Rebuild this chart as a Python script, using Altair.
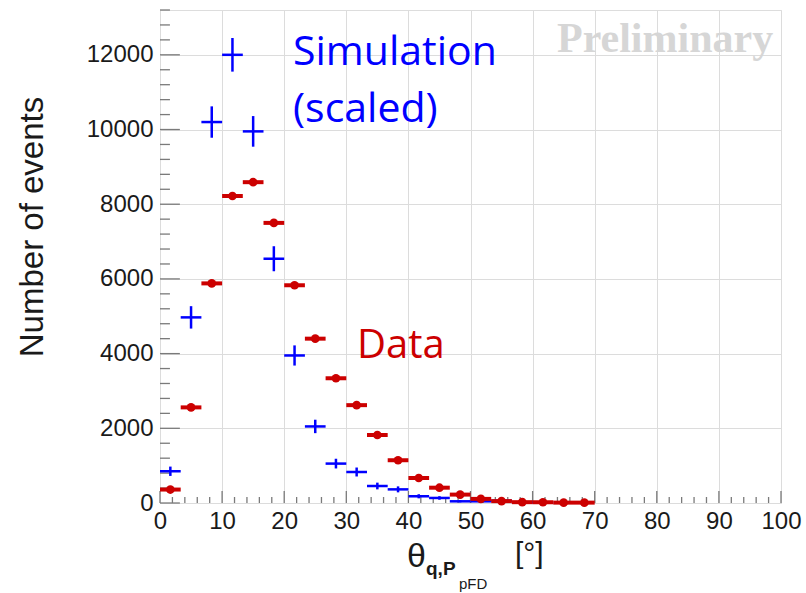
import altair as alt
import pandas as pd

# ---- data ----
bin_centers = [1.667, 5.0, 8.333, 11.667, 15.0, 18.333, 21.667, 25.0, 28.333, 31.667,
               35.0, 38.333, 41.667, 45.0, 48.333, 51.667, 55.0, 58.333, 61.667, 65.0, 68.333]
bin_half = 1.667
data_counts = [360, 2560, 5880, 8220, 8590, 7500, 5830, 4400, 3340, 2620,
               1820, 1145, 670, 410, 225, 110, 50, 22, 20, 10, 10]
sim_counts = [850, 4970, 10200, 12000, 9950, 6540, 3950, 2050, 1055, 830,
              455, 365, 180, 135, 45, 45, 60, 12, 10]
sim_err = [125, 300, 420, 450, 410, 335, 270, 180, 130, 120,
           90, 80, 55, 48, 28, 28, 32, 14, 13]

x_ticks_major = list(range(0, 101, 10))
x_ticks_minor = [v for v in range(0, 101, 2) if v % 10 != 0]
y_ticks_major = list(range(0, 12001, 2000))
y_ticks_minor = [v for v in range(0, 13201, 400) if v % 2000 != 0]

df_data = pd.DataFrame({"x": bin_centers, "y": data_counts})
df_data["lo"] = df_data["x"] - bin_half
df_data["hi"] = df_data["x"] + bin_half
df_sim = pd.DataFrame({"x": bin_centers[:len(sim_counts)], "y": sim_counts, "e": sim_err})
df_sim["lo"] = df_sim["x"] - bin_half
df_sim["hi"] = df_sim["x"] + bin_half
df_sim["ylo"] = df_sim["y"] - df_sim["e"]
df_sim["yhi"] = df_sim["y"] + df_sim["e"]

W, H = 621, 493
RED = "#cc0000"
BLUE = "#0000ff"
FONT = "Liberation Sans"
TICK = "#7a7a7a"

xs = alt.Scale(domain=[0, 100], nice=False, zero=False)
ys = alt.Scale(domain=[0, 13200], nice=False, zero=False)

xaxis = alt.Axis(values=x_ticks_major, grid=True, gridColor="#dcdcdc", gridWidth=1,
                 ticks=False, domain=False, title=None, labelFontSize=24, labelFont=FONT,
                 labelColor="#1a1a1a", labelPadding=6, labelFlush=False, labelOverlap=False)
yaxis = alt.Axis(values=y_ticks_major, grid=True, gridColor="#dcdcdc", gridWidth=1,
                 ticks=False, domain=False, title=None, labelFontSize=24, labelFont=FONT,
                 labelColor="#1a1a1a", labelPadding=7, labelOverlap=False, format="d")

base_axes = alt.Chart(pd.DataFrame({"x": [0], "y": [0]})).mark_point(opacity=0).encode(
    x=alt.X("x:Q", scale=xs, axis=xaxis),
    y=alt.Y("y:Q", scale=ys, axis=yaxis),
)

# inward ticks (ROOT style)
df_yt = pd.DataFrame({"y": y_ticks_major, "x": [0.0] * len(y_ticks_major)})
df_yt["x2"] = 3.2
df_yn = pd.DataFrame({"y": y_ticks_minor, "x": [0.0] * len(y_ticks_minor)})
df_yn["x2"] = 1.6
ytm = alt.Chart(df_yt).mark_rule(color=TICK, strokeWidth=1.3).encode(
    y=alt.Y("y:Q", scale=ys), x=alt.X("x:Q", scale=xs), x2="x2:Q")
ytn = alt.Chart(df_yn).mark_rule(color=TICK, strokeWidth=1.3).encode(
    y=alt.Y("y:Q", scale=ys), x=alt.X("x:Q", scale=xs), x2="x2:Q")
xtm = alt.Chart(pd.DataFrame({"v": x_ticks_major})).mark_tick(
    color=TICK, thickness=1.3, size=12, orient="vertical", opacity=1).encode(
    x=alt.X("v:Q", scale=xs), y=alt.value(H - 6))
xtn = alt.Chart(pd.DataFrame({"v": x_ticks_minor})).mark_tick(
    color=TICK, thickness=1.3, size=6, orient="vertical", opacity=1).encode(
    x=alt.X("v:Q", scale=xs), y=alt.value(H - 3))

# simulation (blue crosses)
sim_h = alt.Chart(df_sim).mark_rule(color=BLUE, strokeWidth=2.5).encode(
    x=alt.X("lo:Q", scale=xs), x2="hi:Q", y=alt.Y("y:Q", scale=ys))
sim_v = alt.Chart(df_sim).mark_rule(color=BLUE, strokeWidth=2.5).encode(
    x=alt.X("x:Q", scale=xs), y=alt.Y("ylo:Q", scale=ys), y2="yhi:Q")

# data (red)
dat_h = alt.Chart(df_data).mark_rule(color=RED, strokeWidth=4).encode(
    x=alt.X("lo:Q", scale=xs), x2="hi:Q", y=alt.Y("y:Q", scale=ys))
dat_p = alt.Chart(df_data).mark_circle(color=RED, opacity=1, size=75).encode(
    x=alt.X("x:Q", scale=xs), y=alt.Y("y:Q", scale=ys))

def label(text, x, y, size, color, font="Open Sans", weight="normal", angle=0, align="left", baseline="alphabetic"):
    return alt.Chart(pd.DataFrame({"t": [text]})).mark_text(
        fontSize=size, font=font, color=color, fontWeight=weight, angle=angle,
        align=align, baseline=baseline).encode(
        text="t:N", x=alt.value(x), y=alt.value(y))

texts = [
    label("Simulation", 133, 55, 41, BLUE),
    label("(scaled)", 133, 112, 41, BLUE),
    label("Data", 197, 348, 40, RED),
    label("Preliminary", 397, 42, 42, "#d6d6d6", font="Liberation Serif", weight="bold"),
    label("Number of events", -127, 217, 33, "#1a1a1a", font=FONT, angle=270,
          align="center", baseline="middle"),
    label("θ", 247, 557, 34, "#1a1a1a", font=FONT),
    label("q,P", 266, 565, 19, "#1a1a1a", font=FONT, weight="bold"),
    label("pFD", 299, 579, 15, "#1a1a1a", font=FONT),
    label("[°]", 355, 553, 30, "#1a1a1a", font=FONT),
]

chart = alt.layer(base_axes, ytm, ytn, xtm, xtn, sim_h, sim_v, dat_h, dat_p, *texts).properties(
    width=W, height=H,
    autosize=alt.AutoSizeParams(type="none"),
    padding={"left": 160, "top": 10, "right": 25, "bottom": 90},
).configure_view(stroke="#a0a0a0", strokeWidth=1.5).configure(background="white")

chart.save("out.html", embed_options={"renderer": "svg", "actions": False})
